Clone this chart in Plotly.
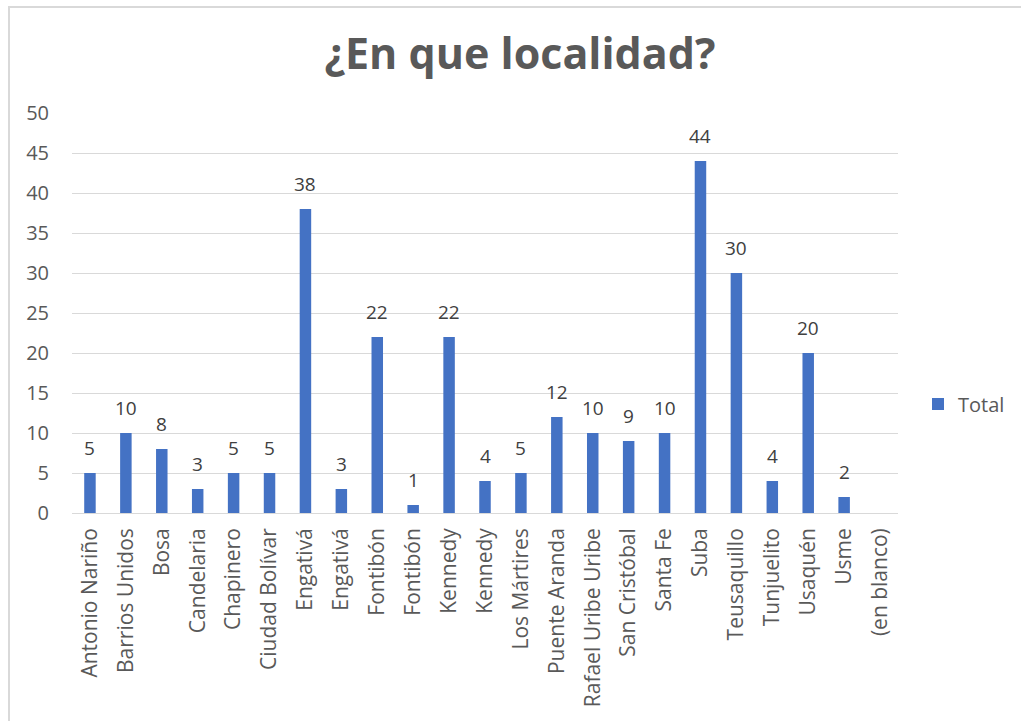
import plotly.graph_objects as go

# Respuestas por localidad
localidades = [
    "Antonio Nariño", "Barrios Unidos", "Bosa", "Candelaria", "Chapinero",
    "Ciudad Bolívar", "Engativá", "Engativá", "Fontibón", "Fontibón",
    "Kennedy", "Kennedy", "Los Mártires", "Puente Aranda", "Rafael Uribe Uribe",
    "San Cristóbal", "Santa Fe", "Suba", "Teusaquillo", "Tunjuelito",
    "Usaquén", "Usme", "(en blanco)",
]
totales = [5, 10, 8, 3, 5, 5, 38, 3, 22, 1, 22, 4, 5, 12, 10, 9, 10, 44, 30, 4, 20, 2, None]

y_ticks = [0, 5, 10, 15, 20, 25, 30, 35, 40, 45, 50]

W, H = 1021, 721
L, R, T, B = 72, 123, 113, 208
pw, ph = W - L - R, H - T - B

posiciones = list(range(len(localidades)))

fig = go.Figure()
fig.add_trace(go.Bar(
    x=posiciones,
    y=totales,
    name="Total",
    marker=dict(color="#4472C4", line=dict(width=0)),
    showlegend=True,
))

# Etiquetas de valor sobre cada barra
for pos, val in zip(posiciones, totales):
    if val is None:
        continue
    fig.add_annotation(
        x=pos, y=val, xref="x", yref="y",
        text=str(val), showarrow=False,
        yanchor="bottom", yshift=10,
        font=dict(family="Open Sans", size=19, color="#404040"),
    )

fig.update_layout(
    width=W, height=H,
    margin=dict(l=L, r=R, t=T, b=B, autoexpand=False),
    paper_bgcolor="white",
    plot_bgcolor="white",
    bargap=0.68,
    title=dict(
        text="<b>¿En que localidad?</b>",
        x=(520 - L) / pw, xref="paper", xanchor="center",
        y=1 - 54 / H, yanchor="middle",
        font=dict(family="Open Sans", size=43, color="#595959"),
    ),
    legend=dict(
        x=(918 - L) / pw, xanchor="left",
        y=(513 - 404) / ph, yanchor="middle",
        font=dict(family="Open Sans", size=20, color="#595959"),
        itemwidth=30,
        bgcolor="rgba(0,0,0,0)",
    ),
    xaxis=dict(
        tickmode="array",
        tickvals=posiciones,
        ticktext=localidades,
        tickangle=-90,
        range=[-0.5, len(localidades) - 0.5],
        showgrid=False,
        showline=False,
        zeroline=False,
        ticks="",
        tickfont=dict(family="Open Sans", size=21, color="#595959"),
        ticklabelstandoff=10,
    ),
    yaxis=dict(
        range=[0, 50],
        tickmode="array",
        tickvals=y_ticks,
        showgrid=True,
        gridcolor="#D9D9D9",
        gridwidth=1,
        zeroline=True,
        zerolinecolor="#D9D9D9",
        zerolinewidth=1,
        showline=False,
        ticks="",
        tickfont=dict(family="Open Sans", size=20, color="#595959"),
        ticklabelstandoff=22,
    ),
)

# Borde del área del gráfico
fig.add_shape(
    type="rect", xref="paper", yref="paper",
    x0=(9 - L) / pw, x1=(W + 20 - L) / pw,
    y0=-(B + 20) / ph, y1=1 + (T - 7) / ph,
    line=dict(color="#D9D9D9", width=2),
    fillcolor="rgba(0,0,0,0)",
    layer="below",
)

fig.write_html("out.html")
